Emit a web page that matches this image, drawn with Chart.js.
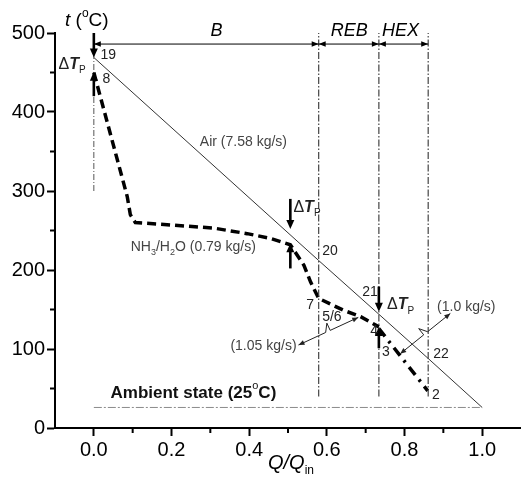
<!DOCTYPE html>
<html><head><meta charset="utf-8">
<script src="https://cdn.jsdelivr.net/npm/chart.js@4"></script>
<style>html,body{margin:0;padding:0;background:#fff}canvas{display:block}</style>
</head><body>
<canvas id="c" width="521" height="480"></canvas>
<script>
// ---------- data ----------
const airX = [0.0, 0.579, 0.734, 0.861, 1.0];          // states 19, 20, 21, 22, exit
const airT = [469, 212, 144, 88, 26];
const mixX = [0.0, 0.086, 0.094, 0.107, 0.172, 0.309, 0.395, 0.455, 0.506, 0.541, 0.558, 0.579, 0.643, 0.687, 0.734];
const mixT = [450, 293, 270, 260, 258, 253, 246, 240, 232, 206, 185, 164, 149, 141, 128];
const liqX = [0.734, 0.772, 0.860];                     // states 4, 3, 2
const liqT = [126, 102, 47];
const boundaryX = [0.579, 0.734, 0.861];
const boundaryT = [40, 500];
const startLineT = [300, 500];
const ambientX = [0.0, 1.0];
const ambientT = [26, 26];
const spanEdges = [0.0, 0.579, 0.734, 0.861];
const spanNames = ['B', 'REB', 'HEX'];
const spanT = 486;
const pinchX = [0.0, 0.0, 0.506, 0.506, 0.734, 0.734];
const pinchFrom = [500, 420, 290, 202, 179, 101];
const pinchTo = [469, 451, 252, 234, 147, 128];
const xMajor = [0.0, 0.2, 0.4, 0.6, 0.8, 1.0];
const xMinor = [0.1, 0.3, 0.5, 0.7, 0.9];
const xTickLabels = ['0.0', '0.2', '0.4', '0.6', '0.8', '1.0'];
const yMajor = [0, 100, 200, 300, 400, 500];
const yMinor = [50, 150, 250, 350, 450];
const yTickLabels = ['0', '100', '200', '300', '400', '500'];

const pts = (xs, ys) => xs.map((x, i) => ({x, y: ys[i]}));
const FAM = '"Liberation Sans", Arial, sans-serif';

const datasets = [
  {data: pts(ambientX, ambientT), borderColor: '#8a8a8a', borderWidth: 1, borderDash: [8, 2, 2, 2]},
  {data: pts([0, 0], startLineT), borderColor: '#555', borderWidth: 1, borderDash: [6, 2, 1, 2]},
  ...boundaryX.map(b => ({data: pts([b, b], boundaryT), borderColor: '#444', borderWidth: 1.2, borderDash: [7, 2, 1.5, 2]})),
  {data: pts(airX, airT), borderColor: '#333', borderWidth: 1},
  {data: pts(mixX, mixT), borderColor: '#000', borderWidth: 3.5, borderDash: [9, 5]},
  {data: pts(liqX, liqT), borderColor: '#000', borderWidth: 3.5, borderDash: [10, 6, 2.5, 6]}
];

function fontOf(s, size) { return (s.it ? 'italic ' : '') + (s.b ? 'bold ' : '') + size + 'px ' + FAM; }
function drawRich(ctx, x, y, segs, size, align, color) {
  ctx.save(); ctx.fillStyle = color || '#222'; ctx.textBaseline = 'middle'; ctx.textAlign = 'left';
  let w = 0;
  const items = segs.map(s => { const sz = (s.sub || s.sup) ? Math.round(size * 0.62) : size; ctx.font = fontOf(s, sz); const ww = ctx.measureText(s.t).width; w += ww; return {s, sz, ww}; });
  let cx = align === 'right' ? x - w : align === 'center' ? x - w / 2 : x;
  items.forEach(it => { ctx.font = fontOf(it.s, it.sz); const dy = it.s.sub ? size * 0.38 : it.s.sup ? -size * 0.4 : 0; ctx.fillText(it.s.t, cx, y + dy); cx += it.ww; });
  ctx.restore();
}
function head(ctx, tx, ty, fx, fy, len, hw) {
  const dx = tx - fx, dy = ty - fy, d = Math.hypot(dx, dy), ux = dx / d, uy = dy / d;
  const bx = tx - ux * len, by = ty - uy * len;
  ctx.beginPath(); ctx.moveTo(tx, ty); ctx.lineTo(bx - uy * hw, by + ux * hw); ctx.lineTo(bx + uy * hw, by - ux * hw); ctx.closePath(); ctx.fill();
}
const dT = [{t: '\u0394'}, {t: 'T', it: true, b: true}, {t: 'P', sub: true}];
const labels = [
  {x: 0.017, y: 472, segs: [{t: '19'}]},
  {x: 0.022, y: 441, segs: [{t: '8'}]},
  {x: 0.273, y: 362, segs: [{t: 'Air (7.58 kg/s)'}], color: '#444'},
  {x: 0.095, y: 229, segs: [{t: 'NH'}, {t: '3', sub: true}, {t: '/H'}, {t: '2', sub: true}, {t: 'O (0.79 kg/s)'}], color: '#444'},
  {x: 0.588, y: 224, segs: [{t: '20'}]},
  {x: 0.567, y: 156, segs: [{t: '7'}], align: 'right'},
  {x: 0.588, y: 140, segs: [{t: '5/6'}]},
  {x: 0.691, y: 172, segs: [{t: '21'}]},
  {x: 0.712, y: 122, segs: [{t: '4'}]},
  {x: 0.742, y: 96, segs: [{t: '3'}]},
  {x: 0.874, y: 94, segs: [{t: '22'}]},
  {x: 0.871, y: 41, segs: [{t: '2'}]},
  {x: 0.522, y: 103, segs: [{t: '(1.05 kg/s)'}], align: 'right', color: '#444'},
  {x: 0.884, y: 153, segs: [{t: '(1.0 kg/s)'}], color: '#444'},
  {x: -0.091, y: 460, segs: dT, size: 16},
  {x: 0.514, y: 279, segs: dT, size: 16},
  {x: 0.755, y: 156, segs: dT, size: 16},
  {x: 0.043, y: 44, segs: [{t: 'Ambient state (25', b: true}, {t: 'o', sup: true}, {t: 'C)', b: true}], size: 17, color: '#111'}
];
const leaders = [
  {ax: 0.527, ay: 105, bx: 0.681, by: 140},
  {ax: 0.918, ay: 145, bx: 0.789, by: 94}
];
const spanLabelX = [0.316, 0.658, 0.790];

const annot = {
  id: 'annot',
  afterDatasetsDraw(chart) {
    const ctx = chart.ctx, xs = chart.scales.x, ys = chart.scales.y, ca = chart.chartArea;
    const X = v => xs.getPixelForValue(v), Y = v => ys.getPixelForValue(v);
    ctx.save();
    // minor ticks
    ctx.strokeStyle = '#000'; ctx.lineWidth = 2;
    xMinor.forEach(v => { const p = X(v); ctx.beginPath(); ctx.moveTo(p, ca.bottom); ctx.lineTo(p, ca.bottom + 5); ctx.stroke(); });
    yMinor.forEach(v => { const p = Y(v); ctx.beginPath(); ctx.moveTo(ca.left, p); ctx.lineTo(ca.left - 5, p); ctx.stroke(); });
    // span dimension arrows
    ctx.fillStyle = '#000'; ctx.strokeStyle = '#000'; ctx.lineWidth = 1;
    const sy = Y(spanT);
    for (let i = 0; i < spanEdges.length - 1; i++) {
      const a = X(spanEdges[i]), b = X(spanEdges[i + 1]);
      ctx.beginPath(); ctx.moveTo(a, sy); ctx.lineTo(b, sy); ctx.stroke();
      head(ctx, a, sy, b, sy, 7, 2.8); head(ctx, b, sy, a, sy, 7, 2.8);
      drawRich(ctx, X(spanLabelX[i]), Y(502), [{t: spanNames[i], it: true}], 18, 'center', '#000');
    }
    // pinch arrows
    ctx.lineWidth = 2.6;
    pinchX.forEach((x, i) => {
      const px = X(x), f = Y(pinchFrom[i]), t = Y(pinchTo[i]);
      const dir = t > f ? 1 : -1;
      ctx.beginPath(); ctx.moveTo(px, f); ctx.lineTo(px, t - dir * 7); ctx.stroke();
      head(ctx, px, t, px, f, 9, 4);
    });
    // zigzag leaders
    ctx.lineWidth = 1; ctx.strokeStyle = '#222'; ctx.fillStyle = '#222';
    leaders.forEach(l => {
      const ax = X(l.ax), ay = Y(l.ay), bx = X(l.bx), by = Y(l.by);
      const dx = bx - ax, dy = by - ay, d = Math.hypot(dx, dy), ux = dx / d, uy = dy / d;
      let nx = -uy, ny = ux; if (ny > 0) { nx = -nx; ny = -ny; }
      const mx = (ax + bx) / 2, my = (ay + by) / 2;
      ctx.beginPath(); ctx.moveTo(ax, ay);
      ctx.lineTo(mx - ux * 3, my - uy * 3);
      ctx.lineTo(mx + ux * 2 + nx * 8, my + uy * 2 + ny * 8);
      ctx.lineTo(mx + ux * 2, my + uy * 2);
      ctx.lineTo(bx, by); ctx.stroke();
      head(ctx, ax, ay, bx, by, 6, 2.5); head(ctx, bx, by, ax, ay, 6, 2.5);
    });
    // text labels
    labels.forEach(l => drawRich(ctx, X(l.x), Y(l.y), l.segs, l.size || 14, l.align || 'left', l.color || '#222'));
    // axis titles
    drawRich(ctx, 65, 21, [{t: 't', it: true}, {t: ' ('}, {t: 'o', sup: true}, {t: 'C)'}], 19, 'left', '#000');
    drawRich(ctx, 268, 463, [{t: 'Q/Q', it: true}, {t: 'in', sub: true}], 20, 'left', '#000');
    ctx.restore();
  }
};

new Chart(document.getElementById('c'), {
  type: 'line',
  data: {datasets: datasets.map(d => Object.assign({pointRadius: 0, fill: false, tension: 0, clip: false}, d))},
  options: {
    responsive: false, animation: false, devicePixelRatio: 1,
    layout: {padding: {top: 33, right: 0, left: 0, bottom: 0}},
    plugins: {legend: {display: false}, tooltip: {enabled: false}},
    scales: {
      x: {
        type: 'linear', min: -0.1, max: 1.1,
        afterBuildTicks: s => { s.ticks = xMajor.map(v => ({value: v})); },
        afterFit: s => { s.height = 52; },
        grid: {drawOnChartArea: false, drawTicks: true, tickLength: 8, tickWidth: 2, tickColor: '#000'},
        border: {display: true, color: '#000', width: 2},
        ticks: {padding: 2, color: '#000', autoSkip: false, maxRotation: 0, font: {family: FAM, size: 20},
          callback: (v, i) => xTickLabels[i]}
      },
      y: {
        type: 'linear', min: 0, max: 500,
        afterBuildTicks: s => { s.ticks = yMajor.map(v => ({value: v})); },
        afterFit: s => { s.width = 55; },
        grid: {drawOnChartArea: false, drawTicks: true, tickLength: 8, tickWidth: 2, tickColor: '#000'},
        border: {display: true, color: '#000', width: 2},
        ticks: {padding: 2, color: '#000', autoSkip: false, font: {family: FAM, size: 20},
          callback: (v, i) => yTickLabels[i]}
      }
    }
  },
  plugins: [annot]
});
</script>
</body></html>
